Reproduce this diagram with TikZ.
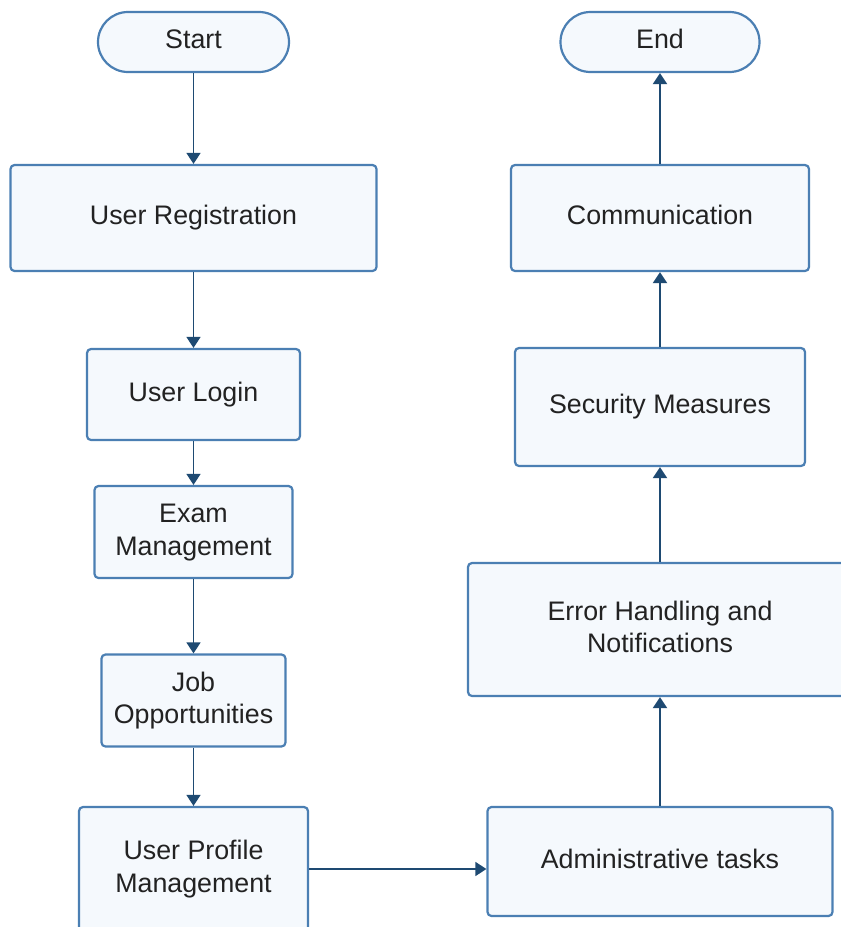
\documentclass[tikz,border=0pt]{standalone}
\usepackage{fontspec}
\setmainfont{Liberation Sans}
\usetikzlibrary{arrows.meta}
\definecolor{boxfill}{HTML}{F5F9FD}
\definecolor{boxdraw}{HTML}{4B7FB3}
\definecolor{arrowc}{HTML}{1E4A72}
\definecolor{txtc}{HTML}{222222}
\newcommand\mystrut{\rule[-5.6pt]{0pt}{24.8pt}}
\begin{document}
\begin{tikzpicture}[x=1pt,y=-1pt,
  box/.style={draw=boxdraw, fill=boxfill, line width=2.2pt, rounded corners=4pt,
    inner sep=0pt, text=txtc, font=\fontsize{26.8}{32.5}\selectfont, align=center},
  term/.style={box, rounded corners=30pt},
  flow/.style={draw=arrowc, line width=1.4pt, -{Triangle[width=14pt,length=11pt]}},
  flowR/.style={draw=arrowc, line width=2pt, -{Triangle[width=14pt,length=11pt]}}]
\useasboundingbox (0,0) rectangle (841,927);
\clip (0,0) rectangle (841,927);
% left column
\node[term, minimum width=191pt, minimum height=60pt] (start) at (193.5,42) {Start\mystrut};
\node[box, minimum width=366pt, minimum height=106pt] (ureg) at (193.5,218) {User Registration\mystrut};
\node[box, minimum width=213pt, minimum height=91pt] (ulog) at (193.5,394.5) {User Login\mystrut};
\node[box, minimum width=198pt, minimum height=92pt] (exam) at (193.5,532) {Exam\mystrut\\Management\mystrut};
\node[box, minimum width=184pt, minimum height=92pt] (job) at (193.5,700.5) {Job\mystrut\\Opportunities\mystrut};
\node[box, minimum width=229pt, minimum height=124pt] (upm) at (193.5,869) {User Profile\mystrut\\Management\mystrut};
% right column
\node[term, minimum width=199pt, minimum height=60pt] (endn) at (660,42) {End\mystrut};
\node[box, minimum width=298pt, minimum height=106pt] (comm) at (660,218) {Communication\mystrut};
\node[box, minimum width=290pt, minimum height=118pt] (sec) at (660,407) {Security Measures\mystrut};
\node[box, minimum width=384pt, minimum height=133pt] (err) at (660,629.5) {Error Handling and\mystrut\\Notifications\mystrut};
\node[box, minimum width=345pt, minimum height=109pt] (admin) at (660,861.5) {Administrative tasks\mystrut};
% connectors
\draw[flow] (start) -- (ureg);
\draw[flow] (ureg) -- (ulog);
\draw[flow] (ulog) -- (exam);
\draw[flow] (exam) -- (job);
\draw[flow] (job) -- (upm);
\draw[flow] (upm.east) -- (admin.west |- upm.east);
\draw[flowR] (admin) -- (err);
\draw[flowR] (err) -- (sec);
\draw[flowR] (sec) -- (comm);
\draw[flowR] (comm) -- (endn);
\end{tikzpicture}
\end{document}
